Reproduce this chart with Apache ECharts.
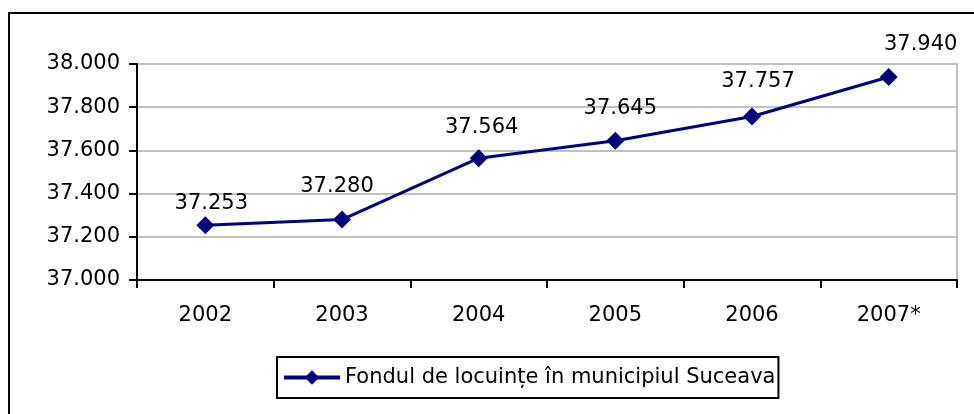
<!DOCTYPE html>
<html>
<head>
<meta charset="utf-8">
<script src="https://cdn.jsdelivr.net/npm/echarts@6/dist/echarts.min.js"></script>
<style>
  html, body { margin: 0; padding: 0; background: #fff; }
  #wrap { position: relative; width: 974px; height: 414px; overflow: hidden; }
  #frame { position: absolute; left: 8px; top: 12px; width: 1000px; height: 450px; border: 2px solid #000; box-sizing: border-box; }
  #chart { position: absolute; left: 0; top: 0; width: 974px; height: 414px; }
</style>
</head>
<body>
<div id="wrap">
  <div id="frame"></div>
  <div id="chart"></div>
</div>
<script>
// date
var years = ['2002', '2003', '2004', '2005', '2006', '2007*'];
var locuinte = [37253, 37280, 37564, 37645, 37757, 37940];
var seriesName = 'Fondul de locuințe în municipiul Suceava';

function fmt(v) {
  var s = String(Math.round(v));
  return s.slice(0, s.length - 3) + '.' + s.slice(s.length - 3);
}

// etichetele nu stau exact centrate in original
var labelShift = [[6, 11], [-5, 0], [3, 2], [5, 0], [6, -2], [32, 0]];
var points = locuinte.map(function (v, i) {
  return { value: v, label: { offset: labelShift[i] } };
});

var chart = echarts.init(document.getElementById('chart'));

var option = {
  backgroundColor: 'transparent',
  textStyle: { fontFamily: 'DejaVu Sans, Liberation Sans, Arial, sans-serif' },
  grid: {
    left: 137, right: 17, top: 64, bottom: 134,
    show: true, borderColor: '#c0c0c0', borderWidth: 2
  },
  legend: {
    left: 277, top: 357,
    padding: [10, 3, 10, 5],
    borderColor: '#000', borderWidth: 2,
    itemWidth: 56, itemHeight: 18, itemGap: 5,
    lineStyle: { width: 4 },
    textStyle: { fontSize: 21, color: '#000' },
    data: [seriesName]
  },
  xAxis: {
    type: 'category',
    data: years,
    boundaryGap: true,
    axisLine: { lineStyle: { color: '#000', width: 2 } },
    axisTick: { show: true, length: 8, lineStyle: { color: '#000', width: 2 } },
    axisLabel: { color: '#000', fontSize: 21, margin: 25 }
  },
  yAxis: {
    type: 'value',
    min: 37000, max: 38000, interval: 200,
    axisLine: { show: true, lineStyle: { color: '#000', width: 2 } },
    axisTick: { show: true, length: 8, lineStyle: { color: '#000', width: 2 } },
    axisLabel: { color: '#000', fontSize: 21, margin: 17, formatter: fmt },
    splitLine: { lineStyle: { color: '#c0c0c0', width: 2 } }
  },
  series: [{
    name: seriesName,
    type: 'line',
    data: points,
    symbol: 'diamond',
    symbolSize: 18,
    color: '#000080',
    lineStyle: { color: '#000080', width: 3 },
    label: {
      show: true, position: 'top', distance: 13,
      fontSize: 21, color: '#000',
      formatter: function (p) { return fmt(p.value); }
    }
  }]
};

chart.setOption(option);
</script>
</body>
</html>
